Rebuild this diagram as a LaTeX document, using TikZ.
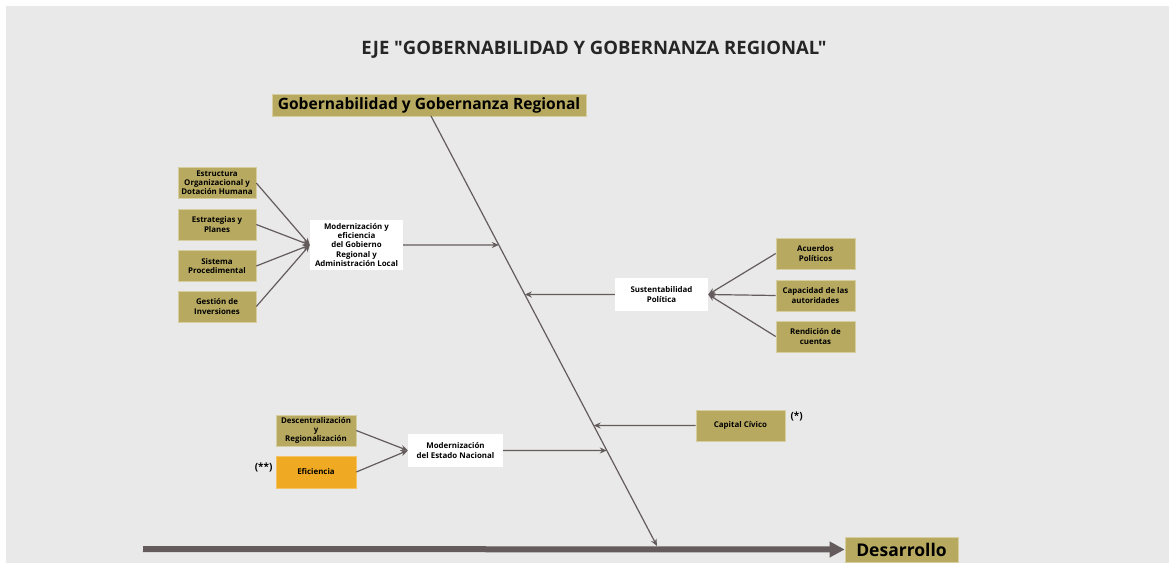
\documentclass[tikz,border=0pt]{standalone}
\usepackage{fontspec}
\setmainfont{Open Sans}
\newfontfamily\titlefont[Ligatures=TeXOff]{Open Sans}
\usetikzlibrary{arrows.meta,calc}
\definecolor{bg}{RGB}{232,233,232}
\definecolor{olive}{RGB}{183,169,96}
\definecolor{oliveedge}{RGB}{214,205,160}
\definecolor{orangebox}{RGB}{240,169,34}
\definecolor{arr}{RGB}{100,91,93}
\begin{document}
\begin{tikzpicture}[x=1pt,y=-1pt,
  smallfont/.style={font=\fontsize{7.9}{9.2}\selectfont\bfseries},
  olivebox/.style={fill=olive, draw=oliveedge, line width=0.6pt, minimum width=78pt, minimum height=31pt, inner sep=0.5pt, align=center, smallfont},
  orangeb/.style={olivebox, fill=orangebox, draw=orangebox!70!white},
  whitebox/.style={fill=white, draw=none, inner sep=1pt, align=center, smallfont},
  conn/.style={draw=arr, line width=1.2pt, -{Stealth[length=7pt,width=6pt]}},
  headbox/.style={fill=olive, draw=oliveedge, line width=0.6pt, inner sep=0pt, align=center}
]
\useasboundingbox (0,0) rectangle (1171,565);
\fill[bg] (6,6) rectangle (1169,563);

% title
\node[font=\titlefont\fontsize{18.5}{20}\selectfont\bfseries, text=black!85] (title) at (594,50) {EJE "GOBERNABILIDAD Y GOBERNANZA REGIONAL"};

% header and spine
\node[headbox, minimum width=314pt, minimum height=22pt, font=\fontsize{15.6}{17}\selectfont\bfseries] (head) at (429,105) {Gobernabilidad y Gobernanza Regional};
\coordinate (s1) at (431,116);
\coordinate (s2) at (657,546);

% main axis
\node[headbox, minimum width=113pt, minimum height=25pt, font=\fontsize{17.5}{19}\selectfont\bfseries] (des) at (901.5,549.5) {Desarrollo};
\coordinate (m0) at (143,549);
\draw[draw=arr, line width=6pt, -{Triangle[length=15pt,width=15pt]}] (m0) -- (des.west);
\draw[conn] (s1) -- (s2);

% left upper group
\node[olivebox] (e1) at (217,183) {Estructura\\Organizacional y\\Dotación Humana};
\node[olivebox] (e2) at (217,224.5) {Estrategias y\\Planes};
\node[olivebox] (e3) at (217,266) {Sistema\\Procedimental};
\node[olivebox] (e4) at (217,306.5) {Gestión de\\Inversiones};
\node[whitebox, minimum width=93pt, minimum height=50pt] (mg) at (356.5,245) {Modernización y\\eficiencia\\del Gobierno\\Regional y\\Administración Local};
\foreach \n in {e1,e2,e3,e4} \draw[conn] (\n.east) -- (mg.west);
\coordinate (p1) at ($(s1)!{(245-116)/430}!(s2)$);
\draw[conn] (mg.east) -- (p1);

% right upper group
\node[whitebox, minimum width=93pt, minimum height=33pt] (sp) at (661.5,294.5) {Sustentabilidad\\Política};
\node[olivebox, minimum width=79pt] (r1) at (815.5,253.5) {Acuerdos\\Políticos};
\node[olivebox, minimum width=79pt] (r2) at (815.5,295.5) {Capacidad de las\\autoridades};
\node[olivebox, minimum width=79pt] (r3) at (815.5,336.5) {Rendición de\\cuentas};
\foreach \n in {r1,r2,r3} \draw[conn] (\n.west) -- (sp.east);
\coordinate (p2) at ($(s1)!{(294.5-116)/430}!(s2)$);
\draw[conn] (sp.west) -- (p2);

% capital civico
\node[olivebox, minimum width=89pt] (cc) at (740.5,425.5) {Capital Cívico};
\node[font=\fontsize{10}{11}\selectfont\bfseries, anchor=west] (ast1) at (787,416) {(*)};
\coordinate (p3) at ($(s1)!{(425.5-116)/430}!(s2)$);
\draw[conn] (cc.west) -- (p3);

% lower left group
\node[olivebox, minimum width=80pt] (d1) at (316,430.5) {Descentralización\\y\\Regionalización};
\node[orangeb, minimum width=80pt, minimum height=32pt] (d2) at (316,472) {Eficiencia};
\node[font=\fontsize{10}{11}\selectfont\bfseries, anchor=east] (ast2) at (276,467) {(**)};
\node[whitebox, minimum width=95pt, minimum height=33pt] (me) at (455.5,450.5) {Modernización\\del Estado Nacional};
\foreach \n in {d1,d2} \draw[conn] (\n.east) -- (me.west);
\coordinate (p4) at ($(s1)!{(450.5-116)/430}!(s2)$);
\draw[conn] (me.east) -- (p4);
\end{tikzpicture}
\end{document}
